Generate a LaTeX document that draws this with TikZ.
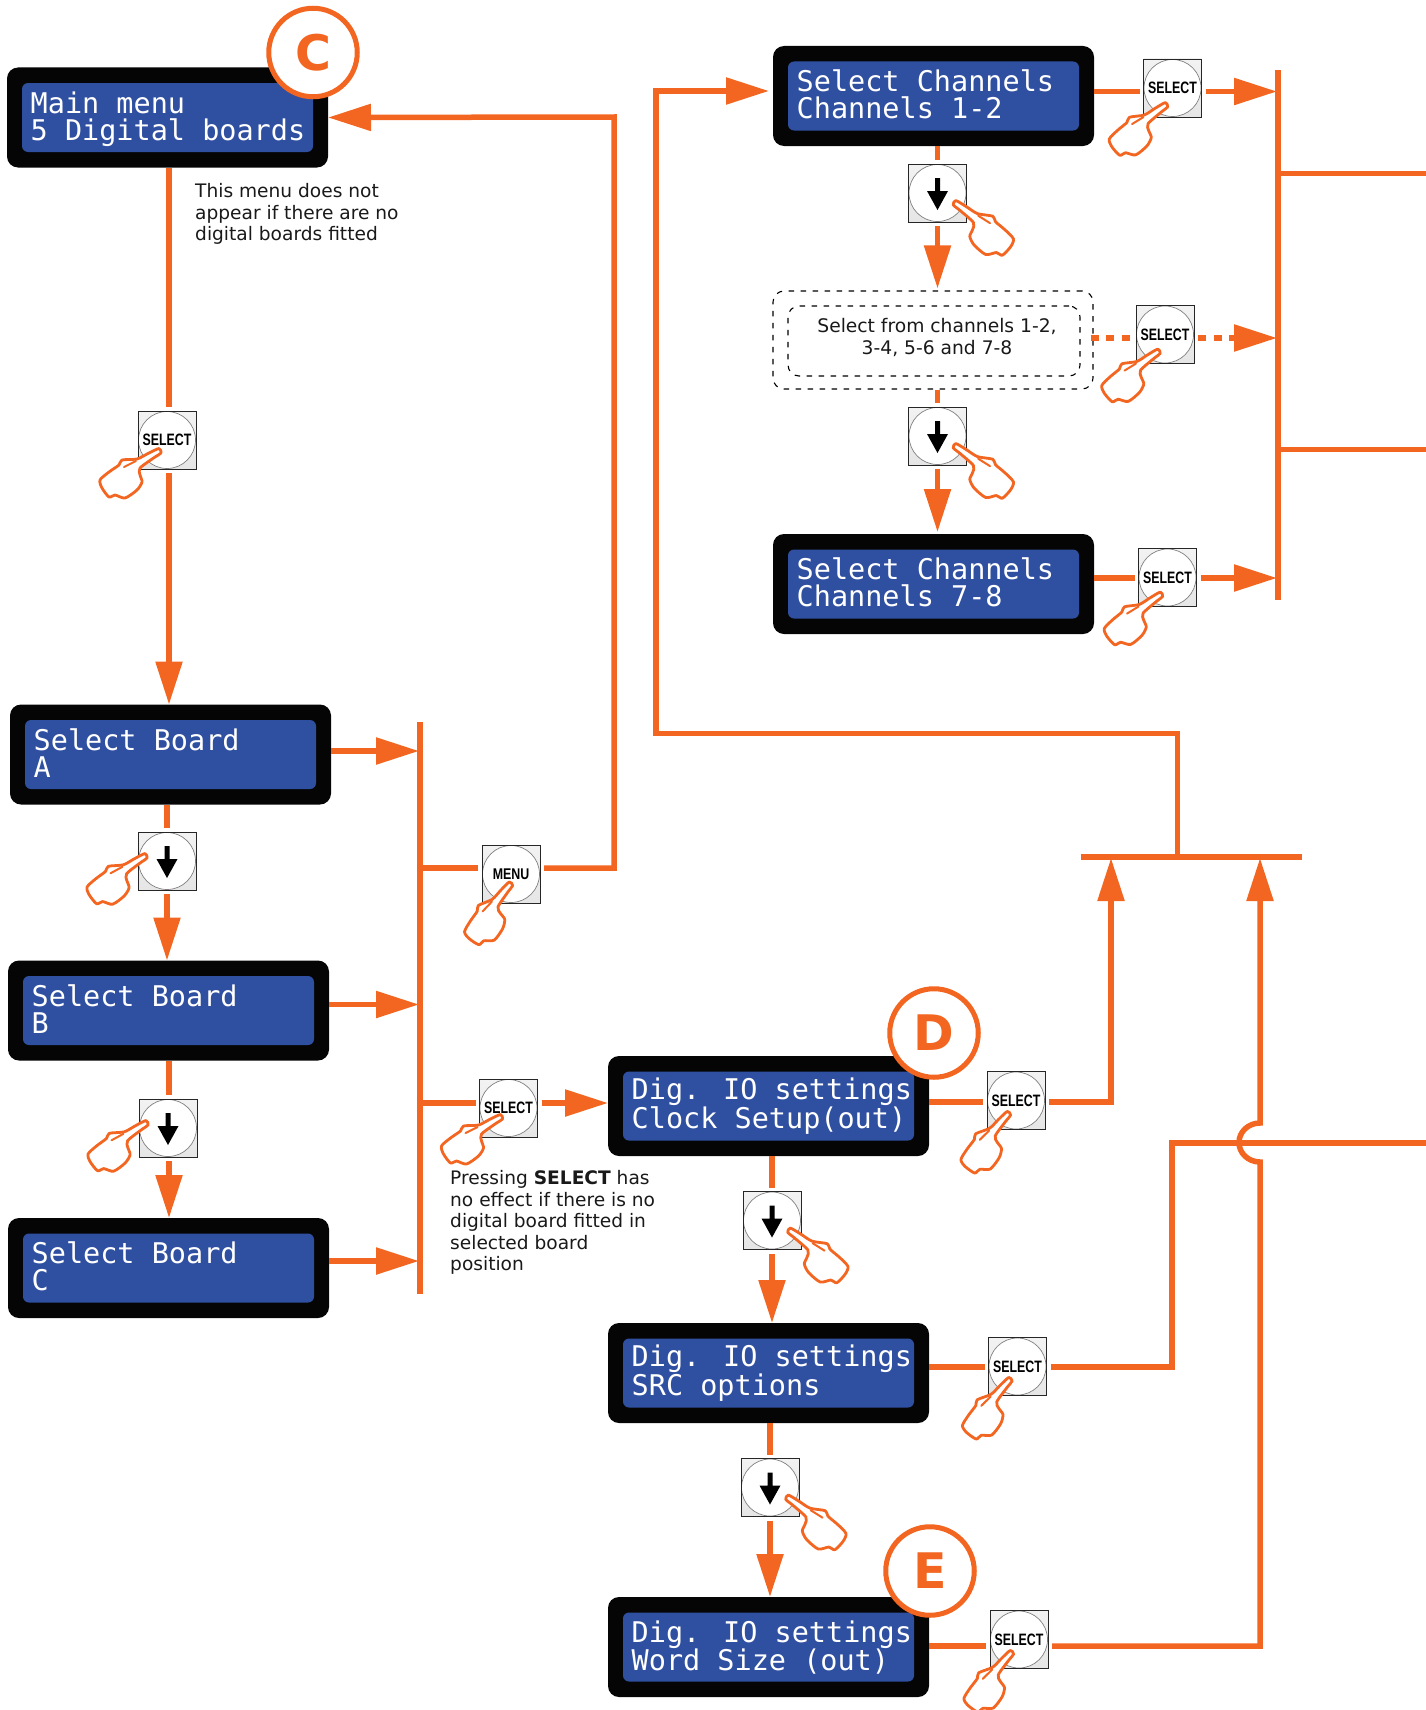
\documentclass[tikz,border=0pt]{standalone}
\usepackage{fontspec}
\usepackage{graphicx}
\setmainfont{DejaVu Sans}
\newfontfamily\lcdfont{DejaVu Sans Mono}
\newfontfamily\btnfont{Liberation Sans}
\usetikzlibrary{arrows.meta,calc}
\definecolor{org}{HTML}{F36621}
\definecolor{lcdblue}{HTML}{2F4FA0}
\definecolor{lcdblack}{HTML}{050505}
\tikzset{
  conn/.style={draw=org,line width=5.5pt},
  arr/.style={conn,-{Triangle[length=43pt 0 0,width=26pt 0 0,color=org]}},
  lcdbody/.style={fill=lcdblack,rounded corners=11pt,minimum width=321pt,minimum height=100pt,inner sep=0pt,outer sep=0pt},
  lcdpanel/.style={fill=lcdblue,rounded corners=6pt,minimum width=291pt,minimum height=69pt,inner sep=0pt,outer sep=0pt},
  lcdtext/.style={text=white,align=left,inner sep=0pt,anchor=west,font=\lcdfont\fontsize{28.5}{27}\selectfont},
  btn/.style={rectangle,draw=black!85,line width=.6pt,top color=white!95!black,bottom color=white!90!black,minimum size=58pt,inner sep=0pt,outer sep=4pt,
    path picture={\draw[fill=white,draw=black!50,line width=.7pt] (path picture bounding box.center) circle (28.5);}},
  badge/.style={circle,draw=org,fill=white,line width=5pt,minimum size=88.5pt,inner sep=0pt,text=org,font=\bfseries\fontsize{49}{50}\selectfont},
  note/.style={align=left,inner sep=0pt,anchor=north west,text=black!90,font=\fontsize{18.6}{21.4}\selectfont},
  dbox/.style={draw=black,line width=1.1pt,dash pattern=on 5.5pt off 6.5pt,rounded corners=11pt,inner sep=0pt},
  handline/.style={draw=org,line width=2.8pt,line join=round,line cap=round}
}
\newcommand{\lcdunit}[6]{%
  \node[lcdbody] (#1) at (#2,#3) {};
  \node[lcdpanel] (#1in) at (#1.center) {};
  \node[lcdtext] (#1txt) at ($(#1.center)+(-137,#6)$) {#4\\#5};
}
\newcommand{\selbtn}[3]{\node[btn] (#1) at (#2,#3) {\btnfont\bfseries\fontsize{16.5}{18}\selectfont\scalebox{.75}[1]{SELECT}};}
\newcommand{\dnbtn}[3]{%
  \node[btn] (#1) at (#2,#3) {};
  \fill[black] ($(#1.center)+(-2.5,-15)$) -- ++(5,0) -- ++(0,13) -- ++(8,0) -- ++(-10.5,19) -- ++(-10.5,-19) -- ++(8,0) -- cycle;
}
% hand: #1 button, #2 #3 tip offset, #4 rotation, #5 #6 scale
\newcommand{\hand}[6]{%
  \begin{scope}[shift={(#1.center)},shift={(#2,#3)},rotate=#4,xscale=#5,yscale=#6]
    \draw[handline,fill=white] plot[smooth cycle,tension=.45] coordinates {(-1,-2.5) (-12,2.5) (-23,8) (-38,9) (-41,14) (-51,21) (-60,29) (-58,37) (-51,46) (-45,44) (-35,47) (-23,39) (-18,31) (-20,24) (-20,17) (-5,6) (1,2)};
    \draw[handline,line width=2pt] (-36,16) -- (-24,10);
  \end{scope}
}
\begin{document}
\begin{tikzpicture}[x=1pt,y=-1pt]
\clip (0,0) rectangle (1426,1710);
\useasboundingbox (0,0) rectangle (1426,1710);
% screens
\lcdunit{main}{167.5}{117.5}{Main menu}{5 Digital boards}{1.5}
\lcdunit{boardA}{170.5}{754.5}{Select Board}{A}{-1.5}
\lcdunit{boardB}{168.5}{1010.5}{Select Board}{B}{-1.5}
\lcdunit{boardC}{168.5}{1268}{Select Board}{C}{-1.5}
\lcdunit{ch12}{933.5}{96}{Select Channels}{Channels 1-2}{-1.5}
\lcdunit{ch78}{933.5}{584}{Select Channels}{Channels 7-8}{-1.5}
\lcdunit{clk}{768.5}{1106}{Dig. IO settings}{Clock Setup(out)}{0.5}
\lcdunit{src}{768.5}{1373}{Dig. IO settings}{SRC options}{0.5}
\lcdunit{wsz}{768.5}{1647}{Dig. IO settings}{Word Size (out)}{0.5}
% dashed panels
\node[dbox,minimum width=320pt,minimum height=98pt] (dashO) at (933,340) {};
\node[dbox,minimum width=292pt,minimum height=70pt] (dashI) at (934,341) {};
\node[inner sep=0pt,align=center,font=\fontsize{18.7}{22}\selectfont,text=black!90] (dashT) at (937,337.5) {Select from channels 1-2,\\3-4, 5-6 and 7-8};
% buttons
\selbtn{mainsel}{167}{440}
\dnbtn{dnA}{167}{861}
\dnbtn{dnB}{168}{1128}
\node[btn] (menubtn) at (511,874) {\btnfont\fontsize{15.5}{18}\selectfont\scalebox{.8}[1]{\textbf{MENU}}};
\selbtn{barsel}{508.5}{1108}
\selbtn{sel12}{1172.5}{88}
\selbtn{seldash}{1165}{334.5}
\selbtn{sel78}{1167.5}{577.5}
\dnbtn{dn1}{937.5}{193}
\dnbtn{dn2}{937.5}{436}
\selbtn{clksel}{1016}{1100.5}
\selbtn{srcsel}{1017.5}{1366.5}
\selbtn{wszsel}{1019}{1639.5}
\dnbtn{dn3}{772}{1220.5}
\dnbtn{dn4}{770}{1487.5}
% junction coordinates
\coordinate (barLt) at (420,722); \coordinate (barLb) at (420,1294);
\coordinate (jm) at (420,868); \coordinate (js) at (420,1103);
\coordinate (rt1) at (614,868); \coordinate (rt2) at (614,117);
\coordinate (barRt) at (1278,70); \coordinate (barRb) at (1278,600);
\coordinate (jc1) at (1278,91.5); \coordinate (jc2) at (1278,338); \coordinate (jc3) at (1278,578);
\coordinate (o1a) at (1278,173.5); \coordinate (o1b) at (1426,173.5);
\coordinate (o2a) at (1278,449.5); \coordinate (o2b) at (1426,449.5);
\coordinate (topA) at (1080.5,857); \coordinate (topB) at (1301.5,857);
\coordinate (upj) at (1177.5,857); \coordinate (upk) at (1177.5,733.5);
\coordinate (upl) at (656,733.5); \coordinate (upm) at (656,91);
\coordinate (jclk) at (1111,1102); \coordinate (jclkt) at (1111,858);
\coordinate (jsrc) at (1172,1367); \coordinate (jsrct) at (1172,1143); \coordinate (jsrce) at (1426,1143);
\coordinate (jw) at (1260,1646); \coordinate (jwb) at (1260,1162); \coordinate (jwt) at (1260,858);
% left column connectors
\draw[conn] ([xshift=1.5pt]main.south) -- ([xshift=2pt]mainsel.north);
\draw[arr] ([xshift=2pt]mainsel.south) -- ([xshift=-1.5pt]boardA.north);
\draw[conn] (dnA.north |- boardA.south) -- (dnA.north);
\draw[arr] (dnA.south) -- (dnA.south |- boardB.north);
\draw[conn] ([xshift=1pt]dnB.north |- boardB.south) -- ([xshift=1pt]dnB.north);
\draw[arr] ([xshift=1pt]dnB.south) -- ([xshift=1pt]dnB.south |- boardC.north);
\draw[conn,line cap=butt] (barLt) -- (barLb);
\draw[arr,shorten >=1pt] ([yshift=3.5pt]boardA.east) -- ([yshift=3.5pt]boardA.east -| barLt);
\draw[arr,shorten >=1pt] ([yshift=6pt]boardB.east) -- ([yshift=6pt]boardB.east -| barLt);
\draw[arr,shorten >=1pt] ([yshift=7pt]boardC.east) -- ([yshift=7pt]boardC.east -| barLt);
\draw[conn] (jm) -- (jm -| menubtn.west);
\draw[arr] (jm -| menubtn.east) -- (rt1) -- (rt2) -- (main.east);
\draw[conn] (js) -- (js -| barsel.west);
\draw[arr] (js -| barsel.east) -- (js -| clk.west);
% channel column
\draw[arr] (upj) -- (upk) -- (upl) -- (upm) -- ([xshift=-4pt]upm -| ch12.west);
\draw[conn] (topA) -- (topB);
\draw[conn] (jc1 -| ch12.east) -- (jc1 -| sel12.west);
\draw[arr,shorten >=1pt] (jc1 -| sel12.east) -- (jc1);
\draw[conn] (ch12.south -| dn1.north) -- (dn1.north);
\draw[arr] (dn1.south) -- ([yshift=2pt]dn1.south |- dashO.north);
\draw[conn,dash pattern=on 8pt off 7.5pt] ([xshift=-3pt]jc2 -| dashO.east) -- (jc2 -| seldash.west);
\draw[arr,dash pattern=on 8pt off 7.5pt,shorten >=1pt] (jc2 -| seldash.east) -- (jc2);
\draw[conn] (dashO.south -| dn2.north) -- (dn2.north);
\draw[arr] (dn2.south) -- ([yshift=2pt]dn2.south |- ch78.north);
\draw[conn] (jc3 -| ch78.east) -- (jc3 -| sel78.west);
\draw[arr,shorten >=1pt] (jc3 -| sel78.east) -- (jc3);
\draw[conn] (barRt) -- (barRb);
\draw[conn] (o1a) -- (o1b);
\draw[conn] (o2a) -- (o2b);
% digital io column
\draw[conn] (clk.south -| dn3.north) -- (dn3.north);
\draw[arr] (dn3.south) -- (dn3.south |- src.north);
\draw[conn] (src.south -| dn4.north) -- (dn4.north);
\draw[arr] (dn4.south) -- (dn4.south |- wsz.north);
\draw[conn] (jclk -| clk.east) -- (jclk -| clksel.west);
\draw[arr] (jclk -| clksel.east) -- (jclk) -- (jclkt);
\draw[conn] (jsrc -| src.east) -- (jsrc -| srcsel.west);
\draw[conn,line join=miter] (jsrc -| srcsel.east) -- (jsrc) -- (jsrct) -- (jsrce);
\draw[conn] (jw -| wsz.east) -- (jw -| wszsel.west);
\draw[arr] (jw -| wszsel.east) -- (jw) -- (jwb) arc[start angle=90,end angle=270,x radius=21,y radius=19.5] -- (jwt);
% notes
\node[note] (note1) at (195,183.5) {This menu does not\\appear if there are no\\digital boards fitted};
\node[note] (note2) at (450,1170.5) {Pressing \textbf{SELECT} has\\no effect if there is no\\digital board fitted in\\selected board\\position};
% badges
\node[badge] (bC) at (313,52.5) {C};
\node[badge] (bD) at (934,1033) {D};
\node[badge] (bE) at (930,1571) {E};
% hands
\hand{mainsel}{-7}{11}{0}{1}{1}
\hand{dnA}{-21}{-5}{2}{1}{1}
\hand{dnB}{-21}{-5}{2}{1}{1}
\hand{menubtn}{0}{10}{20}{1}{1}
\hand{barsel}{-7}{9}{0}{1}{1}
\hand{sel12}{-6}{17}{5}{1}{1}
\hand{seldash}{-6}{17}{5}{1}{1}
\hand{sel78}{-6}{17}{5}{1}{1}
\hand{dn1}{17}{10}{-6}{-1.04}{1.02}
\hand{dn2}{17}{10}{-6}{-1.04}{1.02}
\hand{dn3}{17}{10}{-6}{-1.04}{1.02}
\hand{dn4}{17}{10}{-6}{-1.04}{1.02}
\hand{clksel}{-7}{13}{18}{1}{1}
\hand{srcsel}{-7}{13}{18}{1}{1}
\hand{wszsel}{-7}{13}{18}{1}{1}
\end{tikzpicture}
\end{document}
